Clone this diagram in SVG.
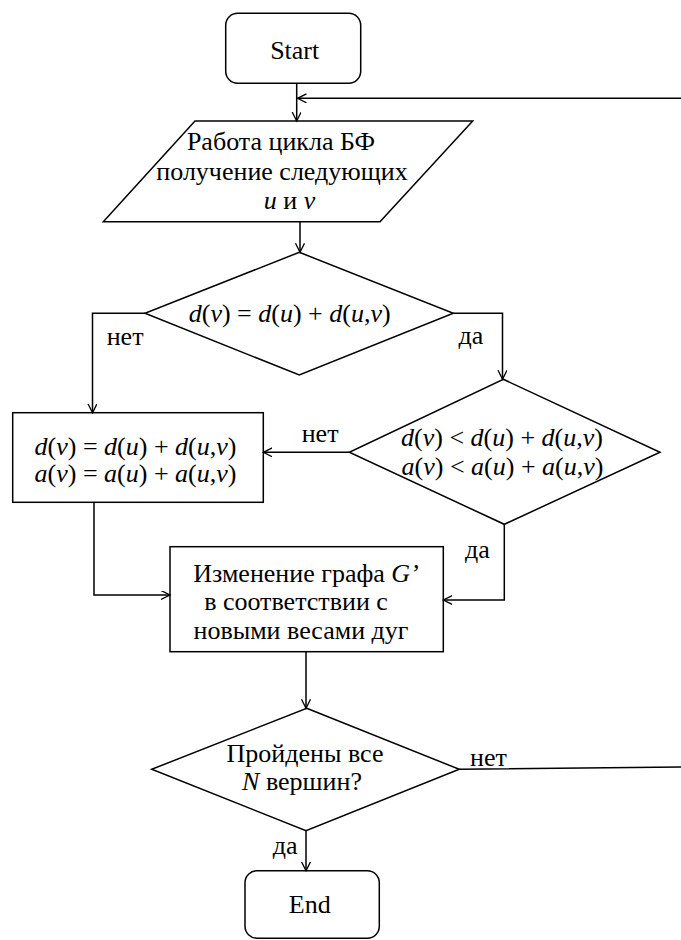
<svg xmlns="http://www.w3.org/2000/svg" width="681" height="940" viewBox="0 0 681 940" font-family="'Liberation Serif', 'Times New Roman', serif" font-size="26">
<style>
  .shape { fill: #ffffff; stroke: #000000; stroke-width: 1.5; }
  .conn { fill: none; stroke: #000000; stroke-width: 1.5; }
  text { fill: #000000; }
  .c { text-anchor: middle; }
  .i { font-style: italic; }
</style>
<defs>
  <marker id="arr" markerUnits="userSpaceOnUse" markerWidth="12" markerHeight="12" refX="9" refY="4.5" orient="auto">
    <path d="M0,0 L9,4.5 L0,9" fill="none" stroke="#000000" stroke-width="1.3"/>
  </marker>
</defs>

<g id="start">
  <rect class="shape" x="225.7" y="13.3" width="135" height="70" rx="12" ry="12"/>
  <text class="c" x="294.7" y="59.3" font-family="Liberation Serif">Start</text>
</g>

<g id="bf-loop">
  <polygon class="shape" points="195,121 472.7,121 380,221.7 103.3,221.7"/>
  <text class="c" x="281" y="150">Работа цикла БФ</text>
  <text class="c" x="282" y="180">получение следующих</text>
  <text class="c" x="289.5" y="209"><tspan class="i">u</tspan> и <tspan class="i">v</tspan></text>
</g>

<g id="check-equal">
  <polygon class="shape" points="299.3,252.3 453.3,313.3 299.3,375 145,313.3"/>
  <text class="c" x="289.7" y="321.7"><tspan class="i">d</tspan>(<tspan class="i">v</tspan>) = <tspan class="i">d</tspan>(<tspan class="i">u</tspan>) + <tspan class="i">d</tspan>(<tspan class="i">u</tspan>,<tspan class="i">v</tspan>)</text>
</g>

<g id="check-less">
  <polygon class="shape" points="503.3,379.3 660,452.3 504.3,524.3 349.3,452.3"/>
  <text class="c" x="502" y="446"><tspan class="i">d</tspan>(<tspan class="i">v</tspan>) &lt; <tspan class="i">d</tspan>(<tspan class="i">u</tspan>) + <tspan class="i">d</tspan>(<tspan class="i">u</tspan>,<tspan class="i">v</tspan>)</text>
  <text class="c" x="502.5" y="475"><tspan class="i">a</tspan>(<tspan class="i">v</tspan>) &lt; <tspan class="i">a</tspan>(<tspan class="i">u</tspan>) + <tspan class="i">a</tspan>(<tspan class="i">u</tspan>,<tspan class="i">v</tspan>)</text>
</g>

<g id="assign">
  <rect class="shape" x="12.7" y="412.7" width="250.6" height="89.6"/>
  <text class="c" x="135.5" y="455"><tspan class="i">d</tspan>(<tspan class="i">v</tspan>) = <tspan class="i">d</tspan>(<tspan class="i">u</tspan>) + <tspan class="i">d</tspan>(<tspan class="i">u</tspan>,<tspan class="i">v</tspan>)</text>
  <text class="c" x="135.5" y="481.7"><tspan class="i">a</tspan>(<tspan class="i">v</tspan>) = <tspan class="i">a</tspan>(<tspan class="i">u</tspan>) + <tspan class="i">a</tspan>(<tspan class="i">u</tspan>,<tspan class="i">v</tspan>)</text>
</g>

<g id="update-graph">
  <rect class="shape" x="170" y="546.7" width="273.3" height="105"/>
  <text class="c" x="306" y="581.7">Изменение графа <tspan class="i">G’</tspan></text>
  <text class="c" x="296" y="610">в соответствии с</text>
  <text class="c" x="301" y="639.3">новыми весами дуг</text>
</g>

<g id="all-visited">
  <polygon class="shape" points="306.7,708.3 459.3,769.3 306,830.7 151.7,769.3"/>
  <text class="c" x="305" y="761.7">Пройдены все</text>
  <text class="c" x="302" y="790"><tspan class="i">N</tspan> вершин?</text>
</g>

<g id="end">
  <rect class="shape" x="245" y="870.7" width="134.3" height="67.5" rx="12" ry="12"/>
  <text class="c" x="309.7" y="913.3">End</text>
</g>

<g id="connectors">
  <path class="conn" d="M296.7,83.3 V121" marker-end="url(#arr)"/>
  <path class="conn" d="M300,221.7 V252.3" marker-end="url(#arr)"/>
  <path class="conn" d="M145,313.3 H92.5 V412.7" marker-end="url(#arr)"/>
  <path class="conn" d="M453.3,313.3 H502.5 V379.3" marker-end="url(#arr)"/>
  <path class="conn" d="M349.3,452.3 H263.3" marker-end="url(#arr)"/>
  <path class="conn" d="M504.3,524.3 V600 H443.3" marker-end="url(#arr)"/>
  <path class="conn" d="M94,502.3 V595 H170" marker-end="url(#arr)"/>
  <path class="conn" d="M306,651.7 V708.3" marker-end="url(#arr)"/>
  <path class="conn" d="M306,830.7 V870.7" marker-end="url(#arr)"/>
  <path class="conn" d="M459.3,769.3 L690,767 V98.3 H297.5" marker-end="url(#arr)"/>
  <text x="106.7" y="345">нет</text>
  <text x="458.5" y="344">да</text>
  <text x="301.7" y="441.7">нет</text>
  <text x="465" y="558.3">да</text>
  <text x="470" y="765.7">нет</text>
  <text x="272.7" y="854">да</text>
</g>
</svg>
